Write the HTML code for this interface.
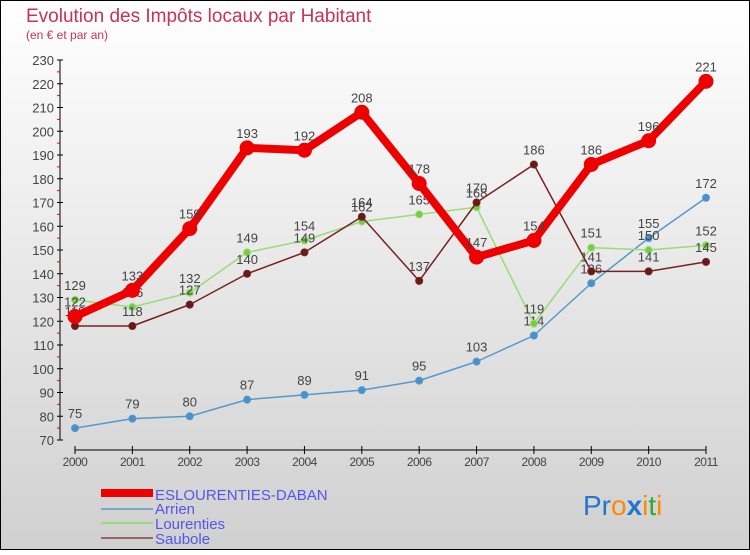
<!DOCTYPE html>
<html><head><meta charset="utf-8"><style>
body{margin:0}
#c{width:750px;height:550px;position:relative;font-family:"Liberation Sans",sans-serif}
</style></head><body>
<div id="c">
<svg id="s" width="750" height="550" xmlns="http://www.w3.org/2000/svg">
<defs><linearGradient id="bg" x1="0" y1="0" x2="0" y2="1"><stop offset="0" stop-color="#ffffff"/><stop offset="1" stop-color="#d0d0d0"/></linearGradient></defs>
<rect x="0.5" y="0.5" width="749" height="549" fill="url(#bg)" stroke="#000"/>
<text x="26" y="22" font-size="19" fill="#c8325a">Evolution des Impôts locaux par Habitant</text>
<text x="26" y="39" font-size="12" fill="#c8325a">(en € et par an)</text>
<g id="axes"></g><g id="series"></g>
<g>
<rect x="101" y="489" width="52" height="8" fill="#e00"/>
<text x="155" y="500" font-size="15" fill="#5555ee">ESLOURENTIES-DABAN</text>
<line x1="101" y1="509" x2="153" y2="509" stroke="#7aa8cc" stroke-width="2"/>
<text x="155" y="514" font-size="15" fill="#5555ee">Arrien</text>
<line x1="101" y1="523" x2="153" y2="523" stroke="#99dd77" stroke-width="2"/>
<text x="155" y="529" font-size="15" fill="#5555ee">Lourenties</text>
<line x1="101" y1="538" x2="153" y2="538" stroke="#996666" stroke-width="2"/>
<text x="155" y="544" font-size="15" fill="#5555ee">Saubole</text>
</g>
<g font-size="28" font-family="Liberation Sans,sans-serif">
<text x="583" y="515"><tspan fill="#2277cc">Pr</tspan><tspan fill="#ff8800">o</tspan><tspan fill="#2277cc" font-weight="bold">x</tspan><tspan fill="#ff8800">i</tspan><tspan fill="#33aa33">t</tspan><tspan fill="#ff8800">i</tspan></text>
</g>
</svg></div>
<script>
const years=["2000","2001","2002","2003","2004","2005","2006","2007","2008","2009","2010","2011"];
const yTicks=[70,80,90,100,110,120,130,140,150,160,170,180,190,200,210,220,230];
const eslourenties=[122,133,159,193,192,208,178,147,154,186,196,221];
const arrien=[75,79,80,87,89,91,95,103,114,136,155,172];
const lourenties=[129,126,132,149,154,162,165,168,119,151,150,152];
const saubole=[118,118,127,140,149,164,137,170,186,141,141,145];
const NS="http://www.w3.org/2000/svg";
const x=i=>75+i*(706-75)/11;
const y=v=>440-(v-70)*(380/160);
function mk(t,a,p){const e=document.createElementNS(NS,t);for(const k in a)e.setAttribute(k,a[k]);p.appendChild(e);return e;}
const ax=document.getElementById('axes');
const yl=mk('line',{x1:60,y1:60,x2:60,y2:440,stroke:'#000'},ax);


yTicks.forEach((v,i)=>{
 mk('line',{x1:57,x2:63,y1:y(v),y2:y(v),stroke:'#000'},ax);
 if(i<yTicks.length-1) mk('line',{x1:57,x2:60,y1:y(v+5),y2:y(v+5),stroke:'#e00'},ax);
 const t=mk('text',{x:54,y:y(v)+5,'text-anchor':'end','font-size':13,fill:'#444'},ax);
 t.textContent=v;
 
 
});
const xl=mk('line',{x1:75,y1:450,x2:706,y2:450,stroke:'#000'},ax);


years.forEach((yr,i)=>{
 mk('line',{x1:x(i),x2:x(i),y1:446,y2:454,stroke:'#000'},ax);
 const t=mk('text',{x:x(i),y:466,'text-anchor':'middle','font-size':12,fill:'#444','letter-spacing':'-0.5'},ax);
 t.textContent=yr;
 
 
});
const sg=document.getElementById('series');
function draw(name,data,color,w,r,fill){
 const g=mk('g',{},sg);
 
 
 const pl=mk('polyline',{points:data.map((v,i)=>x(i)+','+y(v)).join(' '),fill:'none',stroke:color,'stroke-width':w,'stroke-linejoin':'round'},g);
 
 
 data.forEach((v,i)=>{
  const c=mk('circle',{cx:x(i),cy:y(v),r:r,fill:fill,stroke:color,'stroke-width':1},g);
  
  
  const t=mk('text',{x:x(i),y:y(v)-10,'text-anchor':'middle','font-size':13,fill:'#444'},g);
  t.textContent=v;
  
  
 });
}
draw('arrien',arrien,'#5599cc',1.5,3.5,'#4a90cc');
draw('lourenties',lourenties,'#99dd77',1.5,3.5,'#77cc44');
draw('saubole',saubole,'#772222',1.5,3.5,'#661a1a');
draw('eslourenties',eslourenties,'#ee0000',8,7,'#ee0000');
</script>
</body></html>
